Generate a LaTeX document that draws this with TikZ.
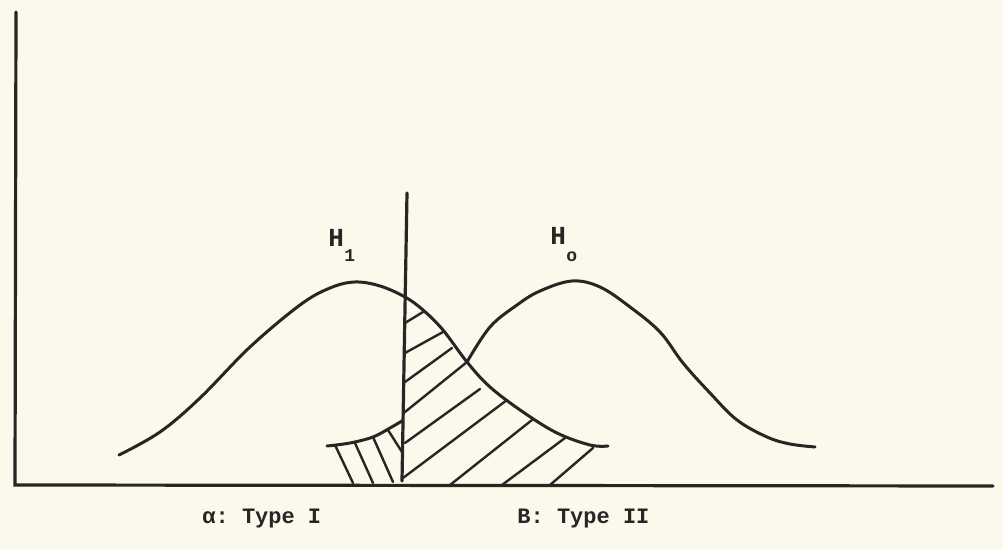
\documentclass[tikz,border=0pt]{standalone}
\usepackage{fontspec}
\setmonofont{Liberation Mono}
\usepackage{tikz}
\definecolor{paper}{RGB}{251,248,236}
\definecolor{ink}{RGB}{38,38,36}
\tikzset{
  axisline/.style={draw=ink,line width=1.6pt,line cap=round},
  curveline/.style={draw=ink,line width=1.5pt,line cap=round,line join=round},
  hatchline/.style={draw=ink,line width=1.2pt,line cap=round},
  hlabel/.style={font=\ttfamily\bfseries\fontsize{13}{15}\selectfont,text=ink,inner sep=0pt,anchor=base west},
  sublabel/.style={font=\ttfamily\bfseries\fontsize{9}{11}\selectfont,text=ink,inner sep=0pt,anchor=base west},
  caption/.style={font=\ttfamily\bfseries\fontsize{11}{13}\selectfont,text=ink,inner sep=0pt,anchor=base west}
}

\begin{document}
\begin{tikzpicture}[x=0.5pt,y=-0.5pt]
  \fill[paper] (0,0) rectangle (1003,550);
  \useasboundingbox (0,0) rectangle (1003,550);
  % axes
  \coordinate (origin) at (15,485);
  \coordinate (ytop) at (16,12);
  \coordinate (xend) at (993,486);
  \draw[axisline] (ytop) -- (origin) -- (xend);
  % critical value
  \coordinate (crittop) at (407,193);
  \coordinate (critbot) at (402,481);
  \draw[axisline] (crittop) -- (critbot);
  % H1 curve
  \draw[curveline] plot[smooth,tension=0.6] coordinates {(119,455) (160,432)
    (200,398) (250,347) (300,305) (330,288) (355,282) (380,286) (405,297)
    (423,310) (443,330) (467,362) (490,387) (523,412) (557,433) (590,445)
    (608,446)};
  % H0 curve, left tail and body
  \draw[curveline] plot[smooth,tension=0.6] coordinates {(327,446) (350,443)
    (373,437) (390,428) (402,421)};
  \draw[curveline] plot[smooth,tension=0.6] coordinates {(467,362) (490,327)
    (517,305) (540,291) (572,281) (600,287) (630,307) (660,332) (683,363)
    (710,393) (737,420) (767,437) (790,444) (815,447)};
  % beta region
  \foreach \xa/\ya/\xb/\yb in {405/323/423/312, 405/353/443/332, 405/382/452/348,
    405/412/467/362, 405/443/480/389, 403/478/507/400, 450/485/532/420,
    502/485/565/438, 550/485/593/448}
    \draw[hatchline] (\xa,\ya) -- (\xb,\yb);
  % alpha region
  \foreach \xa/\ya/\xb/\yb in {335/445/353/483, 355/443/373/483,
    373/437/393/482, 388/430/402/452}
    \draw[hatchline] (\xa,\ya) -- (\xb,\yb);
  % labels
  \node[hlabel] (hone) at (328,247) {H};
  \node[sublabel] (honesub) at (344,262) {1};
  \node[hlabel] (hzero) at (550,245) {H};
  \node[sublabel] (hzerosub) at (566,262) {o};
  \node[caption] (alpha) at (202,524) {α: Type I};
  \node[caption] (beta) at (517,524) {B: Type II};
\end{tikzpicture}
\end{document}
